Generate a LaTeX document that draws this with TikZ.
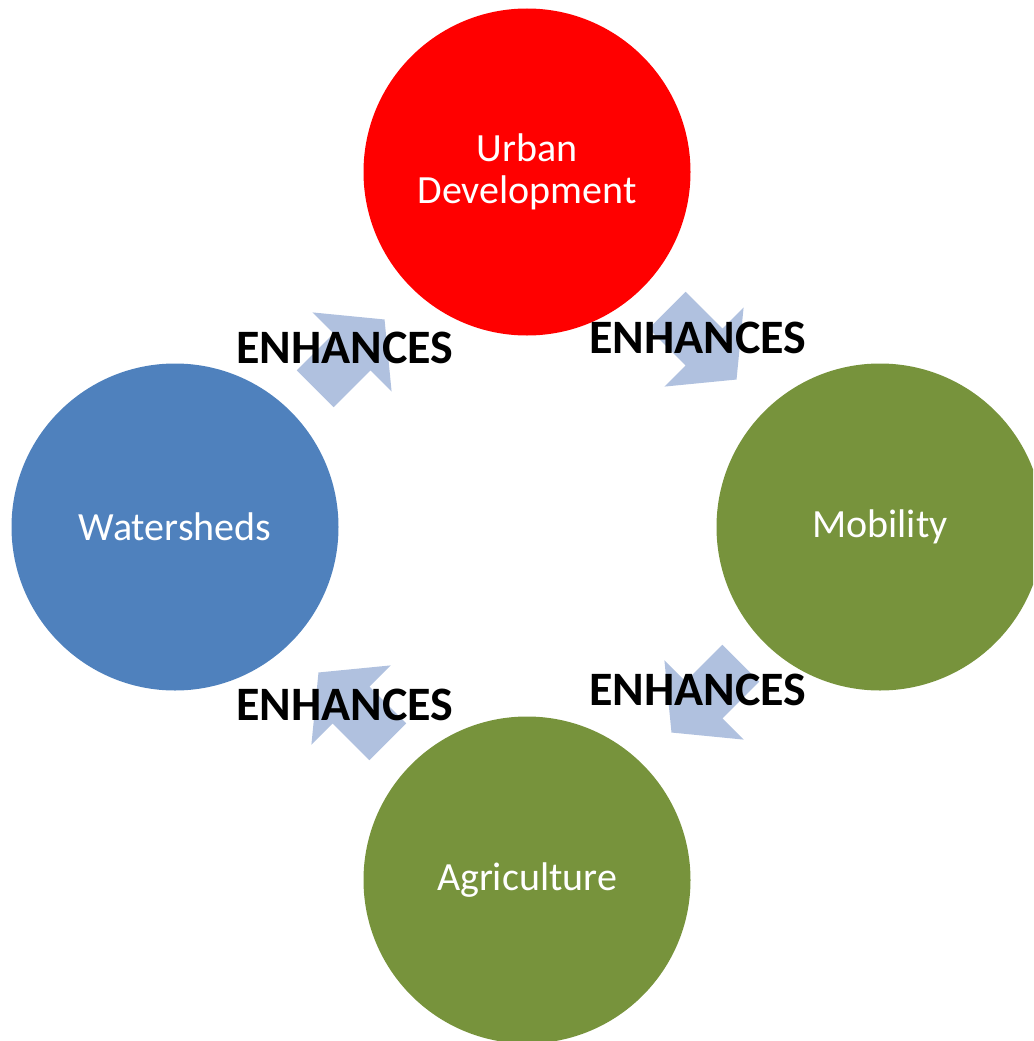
\documentclass[tikz,border=0pt]{standalone}
\usepackage{fontspec}
\setmainfont{Carlito}
\definecolor{urbred}{HTML}{FF0000}
\definecolor{wsblue}{HTML}{4F81BD}
\definecolor{mogreen}{HTML}{77933C}
\definecolor{arrblue}{HTML}{B0C1DF}
\begin{document}
\begin{tikzpicture}[x=1pt,y=-1pt,
  topic/.style={circle, minimum size=327pt, inner sep=0pt, text=white, align=center,
    font=\fontsize{40}{42}\selectfont},
  enh/.style={font=\fontsize{48}{52}\selectfont\bfseries, text=black, inner sep=0pt},
  blockarrow/.style={fill=arrblue, draw=none}]
\useasboundingbox (0,0) rectangle (1033,1041);
\clip (0,0) rectangle (1033,1041);
\node[topic, fill=urbred] (urban) at (527,172) {Urban\\Development};
\node[topic, fill=mogreen] (mob) at (880,527) {Mobility};
\node[topic, fill=mogreen] (agri) at (527,880) {Agriculture};
\node[topic, fill=wsblue] (ws) at (175,527) {Watersheds};
\foreach \cx/\cy/\ang in {352/352/45, 704/347/-45, 704/700/-135, 351/705/135}{
  \begin{scope}[shift={(\cx,\cy)}, rotate=\ang]
    \fill[blockarrow] (-52,-26) -- (0,-26) -- (0,-56) -- (46,0) -- (0,56) -- (0,26) -- (-52,26) -- cycle;
  \end{scope}
}
\node[enh] (e1) at (345,348) {ENHANCES};
\node[enh] (e2) at (698,338) {ENHANCES};
\node[enh] (e3) at (698,690) {ENHANCES};
\node[enh] (e4) at (345,705) {ENHANCES};
\end{tikzpicture}
\end{document}
